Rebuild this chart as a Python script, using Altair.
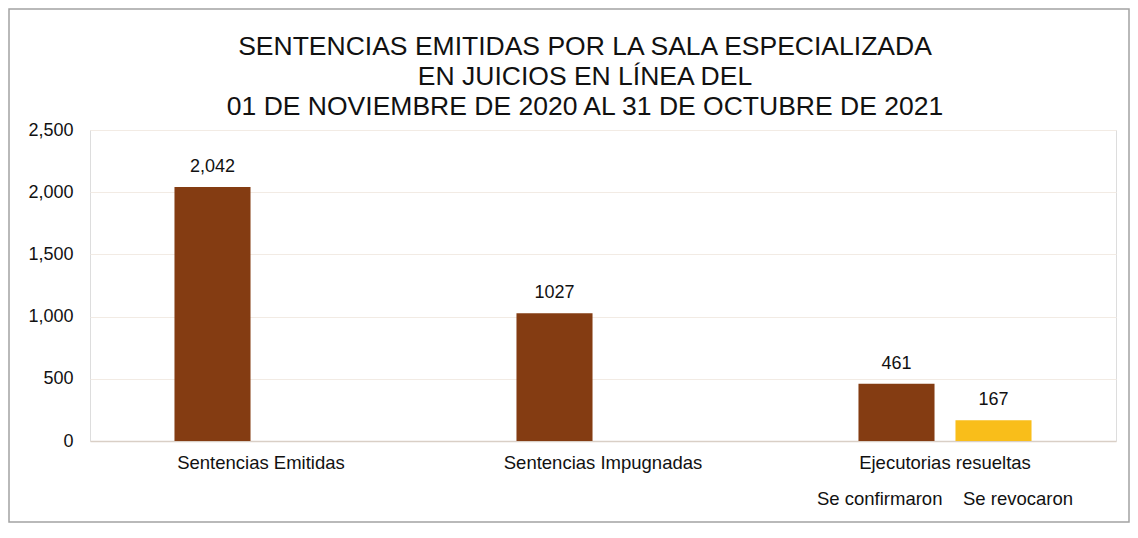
import altair as alt
import pandas as pd

# ---- data ----
categories = ["Sentencias Emitidas", "Sentencias Impugnadas",
              "Ejecutorias resueltas", "Ejecutorias resueltas"]
slots = ["1", "1", "1", "2"]
values = [2042, 1027, 461, 167]
value_labels = ["2,042", "1027", "461", "167"]
sub_labels = ["Se confirmaron", "Se revocaron"]
category_order = ["Sentencias Emitidas", "Sentencias Impugnadas", "Ejecutorias resueltas"]
y_ticks = [0, 500, 1000, 1500, 2000, 2500]
title_lines = [
    "SENTENCIAS EMITIDAS POR LA SALA ESPECIALIZADA",
    "EN JUICIOS EN LÍNEA DEL",
    "01 DE NOVIEMBRE DE 2020 AL 31 DE OCTUBRE DE 2021",
]
bar_colors = ["#843C12", "#F9BE1A"]

FONT = "Liberation Sans"

df = pd.DataFrame({
    "category": categories,
    "slot": slots,
    "value": values,
    "label": value_labels,
})

sub_text = "\u00a0\u00a0\u00a0 ".join(sub_labels)
label_expr = (
    "datum.value == 'Ejecutorias resueltas' ? "
    f"['Ejecutorias resueltas', '{sub_text}'] : datum.value"
)

x_enc = alt.X(
    "category:N",
    sort=category_order,
    scale=alt.Scale(paddingInner=0.494, paddingOuter=0.247),
    axis=alt.Axis(
        title=None, labelAngle=0, ticks=False, domain=True,
        domainColor="#d9cfc6", domainWidth=1.5,
        labelFontSize=18.5, labelFont=FONT, labelColor="#111111",
        labelPadding=12, labelLineHeight=36, labelExpr=label_expr,
        labelLimit=0, labelOverlap=False,
    ),
)
y_enc = alt.Y(
    "value:Q",
    scale=alt.Scale(domain=[0, 2500], nice=False),
    axis=alt.Axis(
        title=None, values=y_ticks, format=",.0f", ticks=False, domain=False,
        grid=True, gridColor="#f2ebe4", gridWidth=1,
        labelFontSize=18, labelFont=FONT, labelColor="#111111",
        labelPadding=17,
    ),
)
xoff = alt.XOffset("slot:N", scale=alt.Scale(paddingInner=0.216, paddingOuter=0))

base = alt.Chart(df).encode(x=x_enc, xOffset=xoff, y=y_enc)

bars = base.mark_bar().encode(
    color=alt.Color("slot:N", scale=alt.Scale(domain=["1", "2"], range=bar_colors), legend=None)
)
texts = base.mark_text(fontSize=18, font=FONT, color="#111111", baseline="alphabetic", dy=-15).encode(
    text="label:N"
)

border = alt.Chart(pd.DataFrame({"a": [0]})).mark_rect(
    fillOpacity=0, stroke="#a3a3a3", strokeWidth=1.5
).encode(
    x=alt.value(-81), x2=alt.value(1039), y=alt.value(-121), y2=alt.value(392)
)

chart = alt.layer(border, bars, texts).properties(
    width=1026,
    height=311,
    autosize="none",
    padding={"left": 82, "top": 122, "right": 14, "bottom": 83},
    title=alt.TitleParams(
        text=title_lines, fontSize=26.5, font=FONT, fontWeight="normal",
        color="#111111", lineHeight=30, anchor="middle", dx=-18, dy=128,
        frame="group", offset=16,
    ),
).configure_view(stroke=None).configure(background="white")

chart.save("out.html", embed_options={"renderer": "svg", "actions": False})
